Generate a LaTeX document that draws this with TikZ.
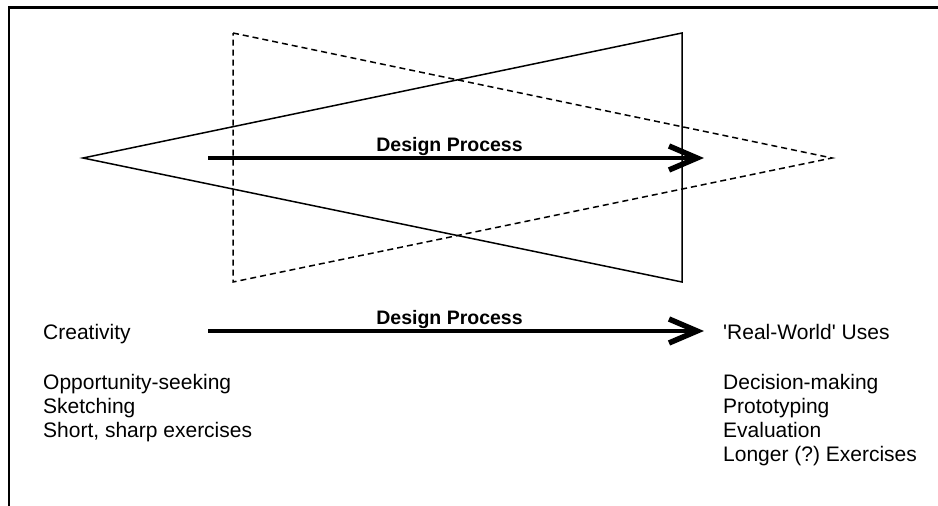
\documentclass[tikz,border=0pt]{standalone}
\usepackage{fontspec}
\setmainfont{Liberation Sans}
\begin{document}
\frenchspacing
\begin{tikzpicture}[x=1pt,y=-1pt,
  tri/.style={line width=1.5pt, line join=miter},
  dtri/.style={tri, dash pattern=on 6pt off 4pt},
  shaft/.style={line width=4.5pt},
  barb/.style={line width=5.5pt, line join=miter, miter limit=10},
  txt/.style={anchor=base west, inner sep=0pt, font=\fontsize{21}{24}\selectfont},
  lbl/.style={anchor=base, inner sep=0pt, font=\fontsize{19.5}{22}\selectfont\bfseries},
  frame/.style={line width=2.6pt, line join=miter}]
\useasboundingbox (0,0) rectangle (938,506);
% frame
\coordinate (fa) at (9,510);
\coordinate (fb) at (9,7.7);
\coordinate (fc) at (942,7.7);
\draw[frame] (fa) -- (fb) -- (fc);
% solid triangle
\coordinate (sA) at (83,158);
\coordinate (sB) at (682,33);
\coordinate (sC) at (682,282);
\draw[tri] (sA) -- (sB) -- (sC) -- cycle;
% dashed triangle
\coordinate (dA) at (233,33);
\coordinate (dB) at (832,158);
\coordinate (dC) at (233,282);
\draw[dtri] (dA) -- (dB) -- (dC) -- cycle;
% top arrow
\coordinate (a1s) at (208,158);
\coordinate (a1t) at (697,158);
\coordinate (a1u) at (669,146);
\coordinate (a1d) at (669,170);
\draw[shaft] (a1s) -- (a1t);
\draw[barb] (a1u) -- (a1t) -- (a1d);
\node[lbl] (l1) at (449.5,151) {Design Process};
% bottom arrow
\coordinate (a2s) at (208,331);
\coordinate (a2t) at (697,331);
\coordinate (a2u) at (669,319);
\coordinate (a2d) at (669,343);
\draw[shaft] (a2s) -- (a2t);
\draw[barb] (a2u) -- (a2t) -- (a2d);
\node[lbl] (l2) at (449.5,324) {Design Process};
% left texts
\node[txt] (c0) at (43,339) {Creativity};
\node[txt] (c1) at (43,389) {Opportunity-seeking};
\node[txt] (c2) at (43,413) {Sketching};
\node[txt] (c3) at (43,437) {Short, sharp exercises};
% right texts
\node[txt] (r0) at (723,339) {\textquotesingle Real-World\textquotesingle{} Uses};
\node[txt] (r1) at (723,389) {Decision-making};
\node[txt] (r2) at (723,413) {Prototyping};
\node[txt] (r3) at (723,437) {Evaluation};
\node[txt] (r4) at (723,461) {Longer (?) Exercises};
\end{tikzpicture}
\end{document}
